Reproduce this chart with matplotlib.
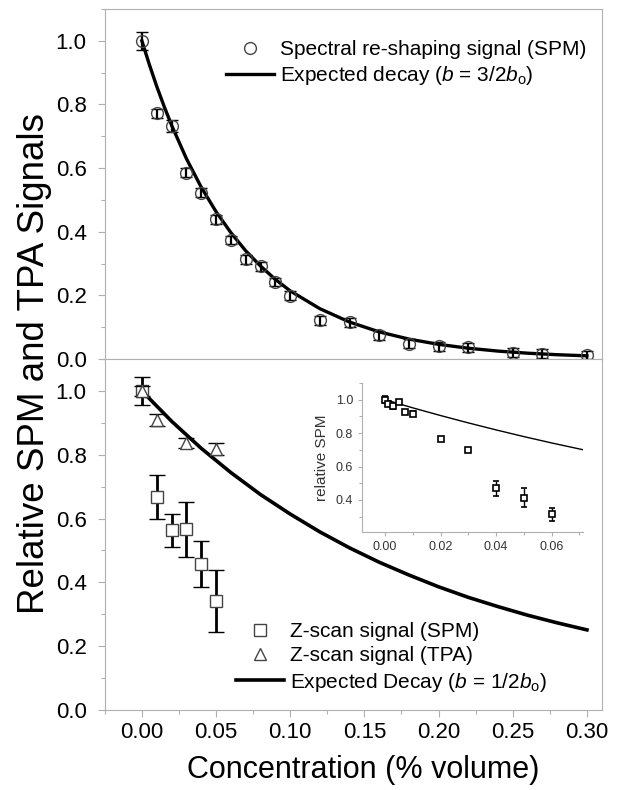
import numpy as np
import matplotlib
matplotlib.use("Agg")
import matplotlib.pyplot as plt
from matplotlib.lines import Line2D
from matplotlib.ticker import MultipleLocator, FormatStrFormatter

plt.rcParams['font.family'] = ['Liberation Sans', 'DejaVu Sans']
plt.rcParams['mathtext.fontset'] = 'custom'
plt.rcParams['mathtext.rm'] = 'Liberation Sans'
plt.rcParams['mathtext.it'] = 'Liberation Sans:italic'

# --- top panel: spectral re-shaping signal (SPM)
spm_x = [0.00, 0.01, 0.02, 0.03, 0.04, 0.05, 0.06, 0.07, 0.08, 0.09, 0.10,
         0.12, 0.14, 0.16, 0.18, 0.20, 0.22, 0.25, 0.27, 0.30]
spm_y = [1.000, 0.772, 0.732, 0.586, 0.523, 0.439, 0.374, 0.314, 0.291, 0.242, 0.199,
         0.121, 0.115, 0.074, 0.048, 0.040, 0.037, 0.019, 0.017, 0.013]
spm_err = [0.028, 0.014, 0.020, 0.014, 0.014, 0.014, 0.014, 0.014, 0.014, 0.014, 0.014,
           0.014, 0.014, 0.014, 0.014, 0.014, 0.014, 0.014, 0.014, 0.012]

fit1_x = [0.0, 0.005, 0.01, 0.015, 0.02, 0.03, 0.04, 0.05, 0.06, 0.07, 0.08, 0.09, 0.10,
          0.12, 0.14, 0.16, 0.18, 0.20, 0.22, 0.24, 0.26, 0.28, 0.30]
fit1_y = [1.0, 0.926, 0.857, 0.794, 0.735, 0.630, 0.540, 0.463, 0.397, 0.340, 0.292, 0.250, 0.214,
          0.158, 0.116, 0.0851, 0.0625, 0.0460, 0.0338, 0.0248, 0.0182, 0.0134, 0.0099]

# --- bottom panel: z-scan
zs_x = [0.00, 0.01, 0.02, 0.03, 0.04, 0.05]
zs_y = [1.000, 0.667, 0.563, 0.566, 0.457, 0.342]
zs_err = [0.045, 0.070, 0.052, 0.086, 0.072, 0.098]

tpa_x = [0.00, 0.01, 0.03, 0.05]
tpa_y = [1.000, 0.908, 0.836, 0.818]
tpa_err = [0.015, 0.018, 0.015, 0.020]

fit2_x = [0.0, 0.02, 0.04, 0.06, 0.08, 0.10, 0.12, 0.14, 0.16, 0.18, 0.20,
          0.22, 0.24, 0.26, 0.28, 0.30]
fit2_y = [1.0, 0.905, 0.820, 0.744, 0.675, 0.614, 0.558, 0.508, 0.463, 0.423, 0.386,
          0.353, 0.324, 0.297, 0.273, 0.251]

# --- inset: relative SPM at low concentration
ins_x = [0.000, 0.001, 0.003, 0.005, 0.007, 0.010, 0.020, 0.030, 0.040, 0.050, 0.060]
ins_y = [1.000, 0.975, 0.962, 0.988, 0.926, 0.916, 0.762, 0.700, 0.470, 0.414, 0.314]
ins_err = [0.020, 0.015, 0.015, 0.012, 0.012, 0.015, 0.010, 0.008, 0.044, 0.057, 0.040]

ins_fit_x = [0.0, 0.01, 0.02, 0.03, 0.04, 0.05, 0.06, 0.07, 0.072]
ins_fit_y = [1.0, 0.951, 0.905, 0.861, 0.819, 0.779, 0.741, 0.705, 0.698]

gray = '#b0b0b0'


def style_axes(ax):
    for s in ax.spines.values():
        s.set_color(gray)
        s.set_linewidth(0.8)
    ax.tick_params(which='both', direction='out', color=gray, width=0.8)
    ax.tick_params(which='major', length=5)
    ax.tick_params(which='minor', length=3)


fig = plt.figure(figsize=(6.2, 7.9), dpi=100)
ax1 = fig.add_axes([0.169, 0.5456, 0.8016, 0.4430])
ax2 = fig.add_axes([0.169, 0.1013, 0.8016, 0.4443])

for ax in (ax1, ax2):
    style_axes(ax)
    ax.set_xlim(-0.025, 0.31)
    ax.set_ylim(0, 1.1)
    ax.xaxis.set_major_locator(MultipleLocator(0.05))
    ax.xaxis.set_minor_locator(MultipleLocator(0.025))
    ax.yaxis.set_major_locator(MultipleLocator(0.2))
    ax.yaxis.set_minor_locator(MultipleLocator(0.1))
    ax.xaxis.set_major_formatter(FormatStrFormatter('%.2f'))
    ax.yaxis.set_major_formatter(FormatStrFormatter('%.1f'))
    ax.tick_params(labelsize=16)
    ax.tick_params(axis='y', which='major', pad=8)

ax1.tick_params(axis='x', labelbottom=False)

ax1.errorbar(spm_x, spm_y, yerr=spm_err, fmt='o', ms=8.5, mfc='none', mec='#444444', mew=1.0,
             ecolor='k', elinewidth=1.6, capsize=4.5, capthick=1.6, zorder=3)
ax1.plot(fit1_x, fit1_y, color='k', lw=2.4, zorder=2)
h1 = [Line2D([], [], ls='none', marker='o', ms=8.5, mfc='none', mec='#444444', mew=1.0),
      Line2D([], [], color='k', lw=2.4)]
ax1.legend(h1, ['Spectral re-shaping signal (SPM)',
                r'Expected decay ($b$ = 3/2$b_\mathrm{o}$)'],
           loc='upper right', bbox_to_anchor=(0.97, 0.911), frameon=False, fontsize=15,
           borderaxespad=0, borderpad=0, handlelength=2.3, handletextpad=0.3, labelspacing=0.25)

ax2.errorbar(zs_x, zs_y, yerr=zs_err, fmt='s', ms=8, mfc='white', mec='#444444', mew=1.0,
             ecolor='k', elinewidth=2.0, capsize=5.5, capthick=2.0, zorder=3)
ax2.errorbar(tpa_x, tpa_y, yerr=tpa_err, fmt='^', ms=9, mfc='white', mec='#444444', mew=1.0,
             ecolor='k', elinewidth=2.0, capsize=5.5, capthick=2.0, zorder=4)
ax2.plot(fit2_x, fit2_y, color='k', lw=2.6, zorder=2)
h2 = [Line2D([], [], ls='none', marker='s', ms=8, mfc='white', mec='#444444', mew=1.0),
      Line2D([], [], ls='none', marker='^', ms=9, mfc='white', mec='#444444', mew=1.0),
      Line2D([], [], color='k', lw=2.6)]
ax2.legend(h2, ['Z-scan signal (SPM)', 'Z-scan signal (TPA)',
                r'Expected Decay ($b$ = 1/2$b_\mathrm{o}$)'],
           loc='upper right', bbox_to_anchor=(0.89, 0.25), frameon=False, fontsize=15,
           borderaxespad=0, borderpad=0, handlelength=2.3, handletextpad=0.3, labelspacing=0.25)

# inset
ax3 = fig.add_axes([0.584, 0.3266, 0.356, 0.1886])
style_axes(ax3)
ax3.spines['top'].set_visible(False)
ax3.spines['right'].set_visible(False)
ax3.set_xlim(-0.0083, 0.0712)
ax3.set_ylim(0.208, 1.1)
ax3.xaxis.set_major_locator(MultipleLocator(0.02))
ax3.xaxis.set_minor_locator(MultipleLocator(0.01))
ax3.set_yticks([0.4, 0.6, 0.8, 1.0])
ax3.yaxis.set_minor_locator(MultipleLocator(0.1))
ax3.xaxis.set_major_formatter(FormatStrFormatter('%.2f'))
ax3.yaxis.set_major_formatter(FormatStrFormatter('%.1f'))
ax3.tick_params(which='major', length=3, labelsize=9, colors='#333333')
ax3.tick_params(which='both', color=gray)
ax3.tick_params(which='minor', length=2)
ax3.errorbar(ins_x, ins_y, yerr=ins_err, fmt='s', ms=5, mfc='white', mec='k', mew=1.2,
             ecolor='k', elinewidth=1.0, capsize=2.5, capthick=1.0, zorder=3)
ax3.plot(ins_fit_x, ins_fit_y, color='k', lw=1.0, zorder=2)
ax3.set_ylabel('relative SPM', fontsize=11, color='#333333', labelpad=5)

fig.text(0.056, 0.540, 'Relative SPM and TPA Signals', rotation=90, fontsize=26.5,
         family=['Liberation Sans Narrow', 'Liberation Sans'], ha='center', va='center')
fig.text(0.585, 0.025, 'Concentration (% volume)', fontsize=22, ha='center', va='center')

fig.savefig('out.png', dpi=100)
